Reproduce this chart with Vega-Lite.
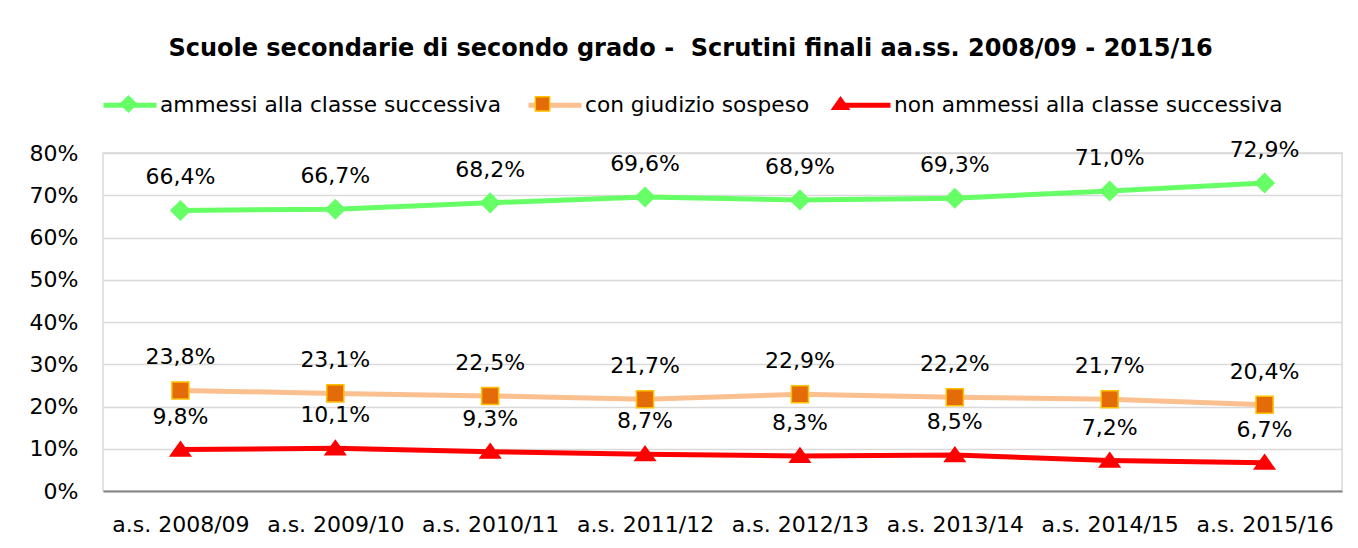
{
  "$schema": "https://vega.github.io/schema/vega-lite/v6.json",
  "width": 1239,
  "height": 338,
  "autosize": {"type": "none"},
  "padding": {"left": 103, "top": 153, "right": 16, "bottom": 57},
  "background": "white",
  "config": {
    "locale": {"number": {"decimal": ",", "thousands": ".", "grouping": [3], "currency": ["", " €"]}},
    "view": {"stroke": "#d9d9d9", "strokeWidth": 1.5},
    "font": "DejaVu Sans",
    "legend": {"labelFont": "DejaVu Sans", "labelFontSize": 21.7, "labelColor": "#000000", "labelLimit": 0, "padding": 0, "columnPadding": 17, "labelOffset": 1}
  },
  "title": {
    "text": "Scuole secondarie di secondo grado -\u00a0 Scrutini finali aa.ss. 2008/09 - 2015/16",
    "font": "DejaVu Sans",
    "fontSize": 24,
    "fontWeight": "bold",
    "color": "#000000",
    "anchor": "middle",
    "dx": -32,
    "offset": 15
  },
  "data": {
    "values": [
      {"anno": "a.s. 2008/09", "serie": "ammessi alla classe successiva", "valore": 0.664},
      {"anno": "a.s. 2009/10", "serie": "ammessi alla classe successiva", "valore": 0.667},
      {"anno": "a.s. 2010/11", "serie": "ammessi alla classe successiva", "valore": 0.682},
      {"anno": "a.s. 2011/12", "serie": "ammessi alla classe successiva", "valore": 0.696},
      {"anno": "a.s. 2012/13", "serie": "ammessi alla classe successiva", "valore": 0.689},
      {"anno": "a.s. 2013/14", "serie": "ammessi alla classe successiva", "valore": 0.693},
      {"anno": "a.s. 2014/15", "serie": "ammessi alla classe successiva", "valore": 0.710},
      {"anno": "a.s. 2015/16", "serie": "ammessi alla classe successiva", "valore": 0.729},
      {"anno": "a.s. 2008/09", "serie": "con giudizio sospeso", "valore": 0.238},
      {"anno": "a.s. 2009/10", "serie": "con giudizio sospeso", "valore": 0.231},
      {"anno": "a.s. 2010/11", "serie": "con giudizio sospeso", "valore": 0.225},
      {"anno": "a.s. 2011/12", "serie": "con giudizio sospeso", "valore": 0.217},
      {"anno": "a.s. 2012/13", "serie": "con giudizio sospeso", "valore": 0.229},
      {"anno": "a.s. 2013/14", "serie": "con giudizio sospeso", "valore": 0.222},
      {"anno": "a.s. 2014/15", "serie": "con giudizio sospeso", "valore": 0.217},
      {"anno": "a.s. 2015/16", "serie": "con giudizio sospeso", "valore": 0.204},
      {"anno": "a.s. 2008/09", "serie": "non ammessi alla classe successiva", "valore": 0.098},
      {"anno": "a.s. 2009/10", "serie": "non ammessi alla classe successiva", "valore": 0.101},
      {"anno": "a.s. 2010/11", "serie": "non ammessi alla classe successiva", "valore": 0.093},
      {"anno": "a.s. 2011/12", "serie": "non ammessi alla classe successiva", "valore": 0.087},
      {"anno": "a.s. 2012/13", "serie": "non ammessi alla classe successiva", "valore": 0.083},
      {"anno": "a.s. 2013/14", "serie": "non ammessi alla classe successiva", "valore": 0.085},
      {"anno": "a.s. 2014/15", "serie": "non ammessi alla classe successiva", "valore": 0.072},
      {"anno": "a.s. 2015/16", "serie": "non ammessi alla classe successiva", "valore": 0.067}
    ]
  },
  "encoding": {
    "x": {
      "field": "anno",
      "type": "ordinal",
      "scale": {"type": "point", "padding": 0.5},
      "axis": {
        "title": null,
        "labelAngle": 0,
        "labelFont": "DejaVu Sans",
        "labelFontSize": 22,
        "labelColor": "#000000",
        "labelPadding": 23,
        "ticks": false,
        "grid": false,
        "domainColor": "#868686",
        "domainWidth": 2
      }
    },
    "y": {
      "field": "valore",
      "type": "quantitative",
      "scale": {"domain": [0, 0.8], "nice": false},
      "axis": {
        "title": null,
        "values": [0, 0.1, 0.2, 0.3, 0.4, 0.5, 0.6, 0.7, 0.8],
        "format": ".0%",
        "labelFont": "DejaVu Sans",
        "labelFontSize": 22,
        "labelColor": "#000000",
        "labelPadding": 25,
        "ticks": false,
        "domain": false,
        "gridColor": "#d9d9d9",
        "gridWidth": 1.5
      }
    }
  },
  "layer": [
    {
      "mark": {"type": "line", "strokeCap": "round"},
      "encoding": {
        "color": {
          "field": "serie",
          "type": "nominal",
          "scale": {
            "domain": ["ammessi alla classe successiva", "con giudizio sospeso", "non ammessi alla classe successiva"],
            "range": ["#66ff66", "#fac090", "#ff0000"]
          },
          "legend": {
            "title": null,
            "orient": "none",
            "direction": "horizontal",
            "legendX": -2,
            "legendY": -77,
            "symbolType": "stroke",
            "symbolSize": 2809,
            "symbolStrokeWidth": 5
          }
        },
        "strokeWidth": {
          "field": "serie",
          "type": "nominal",
          "scale": {
            "domain": ["ammessi alla classe successiva", "con giudizio sospeso", "non ammessi alla classe successiva"],
            "range": [5, 5, 4]
          },
          "legend": null
        }
      }
    },
    {
      "mark": {"type": "point", "filled": true, "opacity": 1, "strokeWidth": 1.5, "size": 4000},
      "encoding": {
        "fill": {
          "field": "serie",
          "type": "nominal",
          "scale": {"range": ["#66ff66", "#e36c09", "#ff0000"]},
          "legend": {
            "title": null,
            "orient": "none",
            "direction": "horizontal",
            "legendX": -2,
            "legendY": -77,
            "symbolSize": 2809,
            "symbolStrokeWidth": 1.5,
            "labelOpacity": 0
          }
        },
        "stroke": {
          "field": "serie",
          "type": "nominal",
          "scale": {"range": ["#66ff66", "#ffc000", "#ff0000"]}
        },
        "shape": {
          "field": "serie",
          "type": "nominal",
          "scale": {"range": ["M-0.3,0L0,-0.3L0.3,0L0,0.3Z", "M-0.27,-0.27L0.27,-0.27L0.27,0.27L-0.27,0.27Z", "M0,-0.25L0.32,0.2L-0.32,0.2Z"]}
        }
      }
    },
    {
      "mark": {"type": "text", "dy": -33, "fontSize": 22, "font": "DejaVu Sans", "color": "#000000"},
      "encoding": {
        "text": {"field": "valore", "type": "quantitative", "format": ".1%"}
      }
    }
  ]
}
